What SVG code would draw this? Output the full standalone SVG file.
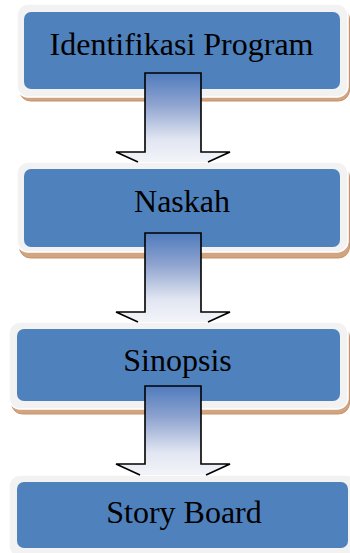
<svg xmlns="http://www.w3.org/2000/svg" width="350" height="553" viewBox="0 0 350 553">
  <defs>
    <linearGradient id="arrowGrad" x1="0" y1="0" x2="0" y2="1">
      <stop offset="0" stop-color="#4f7bbd"/>
      <stop offset="0.35" stop-color="#8ea3cf"/>
      <stop offset="0.75" stop-color="#e2e6f2"/>
      <stop offset="1" stop-color="#f3f4f9"/>
    </linearGradient>
    <style>
      .shadow { fill: #d2a480; stroke: #c4936d; stroke-width: 1; }
      .frame { fill: #f2f2f2; stroke: #ffffff; stroke-width: 1.5; }
      .inner { fill: #4f81bd; }
      .label { font-family: "Liberation Serif", "Times New Roman", serif; font-size: 32px; fill: #000000; text-anchor: middle; }
      .arrow { fill: url(#arrowGrad); stroke: #000000; stroke-width: 1.6; stroke-linejoin: miter; }
    </style>
  </defs>
  <rect width="350" height="553" fill="#ffffff"/>

  <g id="node-identifikasi">
    <rect class="shadow" x="19.5" y="8" width="330" height="93" rx="11"/>
    <rect class="frame" x="17" y="4" width="331" height="93" rx="11"/>
    <rect class="inner" x="24" y="12" width="316" height="77" rx="7"/>
    <text class="label" x="181.5" y="55">Identifikasi Program</text>
  </g>

  <g id="node-naskah">
    <rect class="shadow" x="19.5" y="166" width="330" height="92" rx="11"/>
    <rect class="frame" x="17" y="162" width="331" height="90" rx="11"/>
    <rect class="inner" x="24" y="169" width="316" height="78" rx="7"/>
    <text class="label" x="182" y="212">Naskah</text>
  </g>

  <g id="node-sinopsis">
    <rect class="shadow" x="11.5" y="326" width="338" height="88" rx="11"/>
    <rect class="frame" x="9" y="322" width="339" height="87" rx="11"/>
    <rect class="inner" x="17" y="329" width="323" height="72" rx="7"/>
    <text class="label" x="177.5" y="371">Sinopsis</text>
  </g>

  <g id="node-storyboard">
    <rect class="shadow" x="11.5" y="479" width="348" height="82" rx="11"/>
    <rect class="frame" x="9" y="475" width="348" height="82" rx="11"/>
    <rect class="inner" x="17" y="482" width="331" height="66" rx="7"/>
    <text class="label" x="184" y="523">Story Board</text>
  </g>

  <g id="connectors">
    <path class="arrow" d="M138,162 L116,152 L145,152 L145,73 L201,73 L201,152 L230,152 L208,162"/>
    <path class="arrow" d="M138,322 L116,312 L145,312 L145,233 L201,233 L201,312 L230,312 L208,322"/>
    <path class="arrow" d="M140,475 L116,464 L145,464 L145,386 L201,386 L201,464 L230,464 L206,475"/>
  </g>
</svg>
